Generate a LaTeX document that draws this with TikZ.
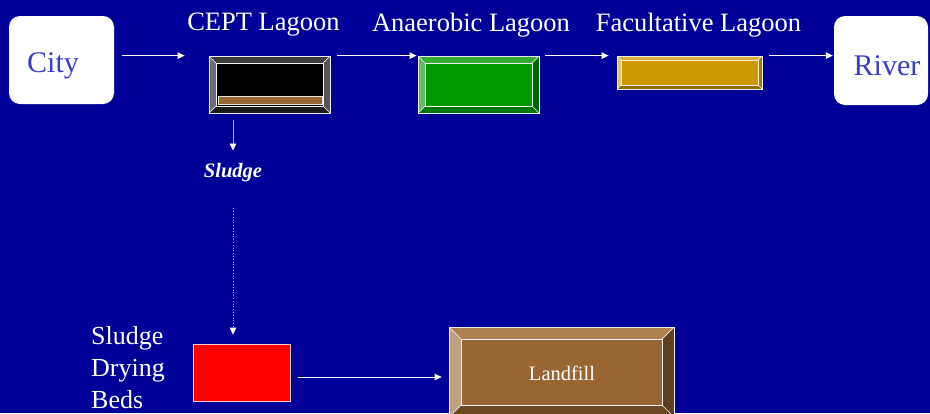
\documentclass[tikz,border=0pt]{standalone}
\usepackage{fontspec}
\setmainfont{Liberation Serif}
\usetikzlibrary{arrows.meta,calc}
\definecolor{bg}{RGB}{0,0,153}
\definecolor{cityblue}{RGB}{60,60,204}
\definecolor{arrowgray}{RGB}{170,170,220}
% CEPT
\definecolor{ceptMain}{RGB}{0,0,0}
\definecolor{ceptTop}{RGB}{60,60,60}
\definecolor{ceptLeft}{RGB}{110,110,110}
\definecolor{ceptRight}{RGB}{85,85,85}
\definecolor{ceptBot}{RGB}{26,26,26}
\definecolor{sludgebrown}{RGB}{153,102,51}
% Anaerobic
\definecolor{anaMain}{RGB}{0,153,0}
\definecolor{anaTop}{RGB}{51,173,51}
\definecolor{anaLeft}{RGB}{102,187,102}
\definecolor{anaRight}{RGB}{0,102,0}
\definecolor{anaBot}{RGB}{0,120,0}
% Facultative
\definecolor{facMain}{RGB}{204,153,0}
\definecolor{facTop}{RGB}{217,173,51}
\definecolor{facLeft}{RGB}{224,194,112}
\definecolor{facRight}{RGB}{163,122,0}
\definecolor{facBot}{RGB}{143,107,0}
% Landfill
\definecolor{lfMain}{RGB}{153,102,51}
\definecolor{lfTop}{RGB}{176,128,80}
\definecolor{lfLeft}{RGB}{192,160,128}
\definecolor{lfRight}{RGB}{95,63,31}
\definecolor{lfBot}{RGB}{110,74,36}
\newcommand\bevbox[7]{%
  \fill[#7Main] (#2,#3) rectangle (#4,#5);
  \fill[#7Top] (#2,#3) -- (#4,#3) -- ({#4-#6},{#3+#6}) -- ({#2+#6},{#3+#6}) -- cycle;
  \fill[#7Left] (#2,#3) -- ({#2+#6},{#3+#6}) -- ({#2+#6},{#5-#6}) -- (#2,#5) -- cycle;
  \fill[#7Right] (#4,#3) -- (#4,#5) -- ({#4-#6},{#5-#6}) -- ({#4-#6},{#3+#6}) -- cycle;
  \fill[#7Bot] (#2,#5) -- (#4,#5) -- ({#4-#6},{#5-#6}) -- ({#2+#6},{#5-#6}) -- cycle;
  \draw[bevline] ({#2+#6},{#3+#6}) rectangle ({#4-#6},{#5-#6});
  \draw[bevline] (#2,#3) -- ({#2+#6},{#3+#6}) (#4,#3) -- ({#4-#6},{#3+#6})
                 (#2,#5) -- ({#2+#6},{#5-#6}) (#4,#5) -- ({#4-#6},{#5-#6});
  \node[draw=white!85!gray, line width=0.8pt, inner sep=0pt,
        minimum width={(#4-#2)*1pt}, minimum height={(#5-#3)*1pt}]
        (#1) at ({(#2+#4)/2},{(#3+#5)/2}) {};
}
\begin{document}
\begin{tikzpicture}[x=1pt,y=-1pt,
  bevline/.style={draw=white!90!gray, line width=0.7pt},
  endbox/.style={fill=white, rounded corners=11pt, inner sep=0pt, text=cityblue,
                 font=\fontsize{30}{34}\selectfont},
  title/.style={text=white, font=\fontsize{26.5}{30}\selectfont, inner sep=0pt},
  arr/.style={draw=white, line width=0.8pt, -{Triangle[length=7pt,width=6.5pt]}},
  garr/.style={draw=arrowgray, line width=0.8pt, -{Triangle[length=7pt,width=6.5pt,fill=white,color=white]}},
  darr/.style={draw=arrowgray, line width=0.8pt, dotted, -{Triangle[length=7pt,width=6.5pt,fill=white,color=white]}}]
\clip (0,0) rectangle (930,413);
\fill[bg] (0,0) rectangle (930,413);

% end boxes
\node[endbox, minimum width=105pt, minimum height=88pt] (city) at (61.5,60) {};
\node[text=cityblue, font=\fontsize{30}{34}\selectfont, inner sep=0pt] (citytxt) at (53,66) {City};
\node[endbox, minimum width=94pt, minimum height=89pt] (river) at (881,60.5) {};
\node[text=cityblue, font=\fontsize{30}{34}\selectfont, inner sep=0pt] (rivertxt) at (887,66) {River};

% titles
\node[title] (t1) at (263.5,25) {CEPT Lagoon};
\node[title] (t2) at (471,25) {Anaerobic Lagoon};
\node[title] (t3) at (698.5,25) {Facultative Lagoon};

% lagoons
\bevbox{cept}{209}{56}{330}{113}{7}{cept}
\fill[sludgebrown] (218,96.5) rectangle (322,104);
\draw[white!80!gray, line width=0.6pt] (218,96.5) rectangle (322,104);
\bevbox{ana}{418}{56}{539}{113}{7}{ana}
\bevbox{fac}{617}{56}{762}{89}{4}{fac}

% lower part
\node[fill=red, draw=white!80!red, line width=0.8pt, minimum width=97pt, minimum height=57pt, inner sep=0pt] (beds) at (241.5,372.5) {};
\node[text=white, align=left, anchor=west, inner sep=0pt,
      font=\fontsize{26}{32}\selectfont] (bedstxt) at (91,368) {Sludge\\Drying\\Beds};
\bevbox{landfill}{449}{327}{674}{417}{12}{lf}
\node[text=white, font=\fontsize{20.5}{24}\selectfont, inner sep=0pt] (lftxt) at (562,373) {Landfill};

\node[text=white, font=\bfseries\itshape\fontsize{20.5}{24}\selectfont, inner sep=2pt] (sludge) at (233,173) {Sludge};

% connectors
\draw[arr, shorten <=8pt, shorten >=24pt] (city.east |- cept.north) -- (cept.north west);
\draw[arr, shorten <=7pt, shorten >=1pt] (cept.north east) -- (ana.north west);
\draw[arr, shorten <=6pt, shorten >=8pt] (ana.north east) -- (fac.north west);
\draw[arr, shorten <=7pt, shorten >=1pt] (fac.north east) -- (river.west |- fac.north);
\draw[garr, shorten <=7pt, shorten >=11pt] (cept.south -| sludge) -- (sludge.north);
\draw[darr, shorten <=24pt, shorten >=9pt] (sludge.south) -- (sludge.south |- beds.north);
\draw[arr, shorten <=8pt, shorten >=7pt] ([yshift=-4.5pt]beds.east) -- ([yshift=-4.5pt]beds.east -| landfill.west);
\end{tikzpicture}
\end{document}
